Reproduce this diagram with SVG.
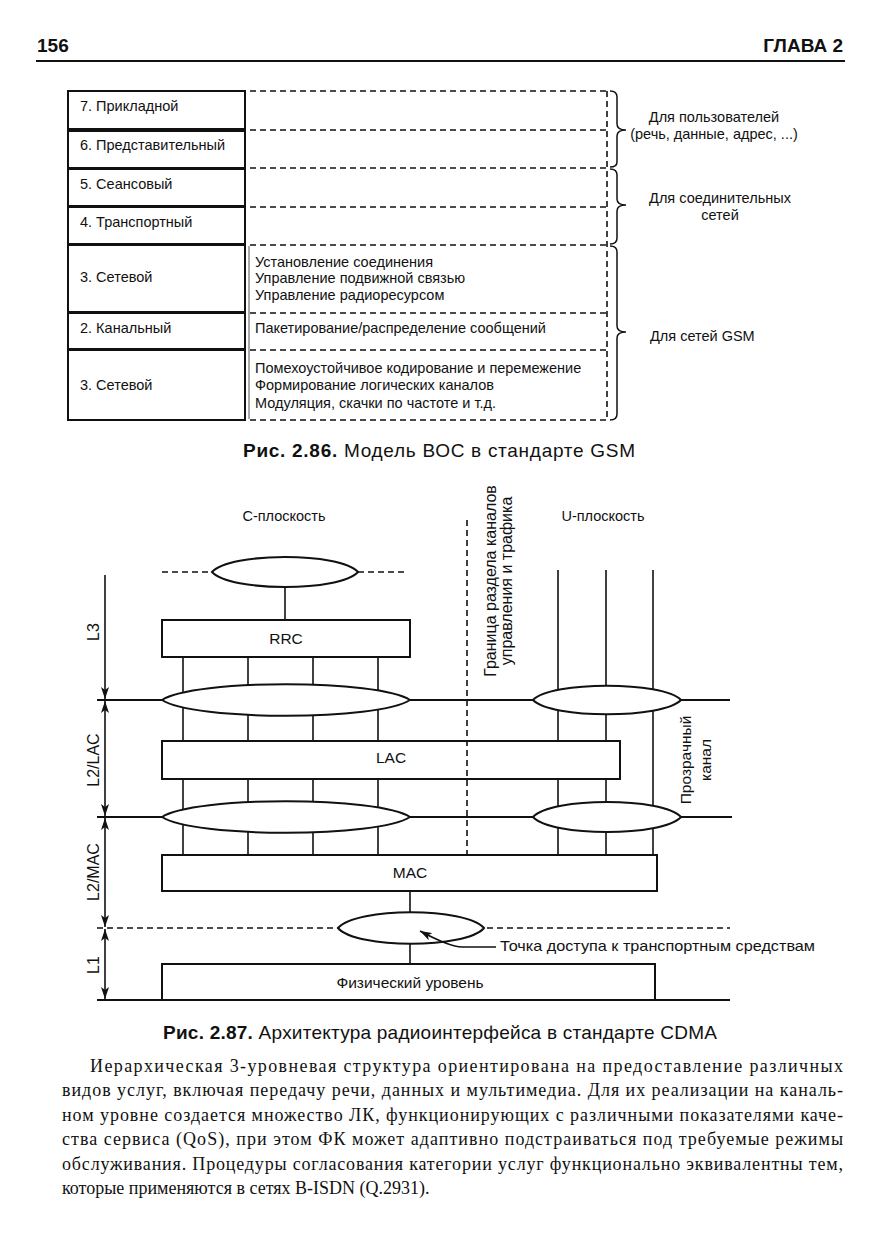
<svg xmlns="http://www.w3.org/2000/svg" width="880" height="1246" viewBox="0 0 880 1246">
<style>
text{font-family:"Liberation Sans",Arial,sans-serif;fill:#111}
.t{font-size:14.5px}
.lbl{font-size:15.5px}
.cap{font-size:19px}
.b{font-weight:bold}
.para{font-family:"Liberation Serif","Times New Roman",serif;font-size:18px}
.box{fill:#fff;stroke:#111;stroke-width:2}
.ell{fill:#fff;stroke:#111;stroke-width:2}
.ln{stroke:#111;stroke-width:1.6;fill:none}
.hl{stroke:#111;stroke-width:2;fill:none}
.ds{stroke:#111;stroke-width:1.6;fill:none;stroke-dasharray:6 4}
.br{stroke:#111;stroke-width:1.5;fill:none}
</style>
<defs>
<marker id="ah" markerUnits="userSpaceOnUse" markerWidth="13" markerHeight="8" refX="12" refY="4" orient="auto-start-reverse">
<path d="M0,0 L12,4 L0,8 L3,4 Z" fill="#111"/>
</marker>
</defs>
<rect width="880" height="1246" fill="#fff"/>

<g id="header">
<text x="37" y="52" class="b" font-size="19">156</text>
<text x="843" y="52" class="b" font-size="19" text-anchor="end">ГЛАВА 2</text>
<line x1="36" y1="61" x2="845" y2="61" class="hl"/>
</g>

<!-- Figure 2.86 -->
<g id="fig286-lines">
<line x1="250" y1="91" x2="606" y2="91" class="ds"/>
<line x1="250" y1="130" x2="606" y2="130" class="ds"/>
<line x1="250" y1="168" x2="606" y2="168" class="ds"/>
<line x1="250" y1="207" x2="606" y2="207" class="ds"/>
<line x1="250" y1="245" x2="606" y2="245" class="ds"/>
<line x1="250" y1="313" x2="606" y2="313" class="ds"/>
<line x1="250" y1="350" x2="606" y2="350" class="ds"/>
<line x1="250" y1="420" x2="606" y2="420" class="ds"/>
<line x1="607" y1="91" x2="607" y2="420" class="ds"/>
<line x1="249" y1="246" x2="249" y2="419" stroke="#555" stroke-width="1"/>
</g>
<g id="row7"><rect x="68" y="91" width="177" height="38" class="box"/><text x="80" y="111" class="t">7. Прикладной</text></g>
<g id="row6"><rect x="68" y="131" width="177" height="37" class="box"/><text x="80" y="150" class="t">6. Представительный</text></g>
<g id="row5"><rect x="68" y="169" width="177" height="37" class="box"/><text x="80" y="189" class="t">5. Сеансовый</text></g>
<g id="row4"><rect x="68" y="207" width="177" height="37" class="box"/><text x="80" y="227" class="t">4. Транспортный</text></g>
<g id="row3"><rect x="68" y="245" width="177" height="67" class="box"/><text x="80" y="282" class="t">3. Сетевой</text>
<text x="255" y="267" class="t">Установление соединения</text>
<text x="255" y="283" class="t">Управление подвижной связью</text>
<text x="255" y="300" class="t">Управление радиоресурсом</text></g>
<g id="row2"><rect x="68" y="313" width="177" height="36" class="box"/><text x="80" y="333" class="t">2. Канальный</text>
<text x="255" y="333" class="t">Пакетирование/распределение сообщений</text></g>
<g id="row1"><rect x="68" y="350" width="177" height="70" class="box"/><text x="80" y="390" class="t">3. Сетевой</text>
<text x="255" y="373" class="t">Помехоустойчивое кодирование и перемежение</text>
<text x="255" y="390" class="t">Формирование логических каналов</text>
<text x="255" y="408" class="t">Модуляция, скачки по частоте и т.д.</text></g>

<g id="brace-users">
<path class="br" d="M610,91 Q617,91 617,97 L617,124 Q617,130 626,130 Q617,130 617,136 L617,162 Q617,167 610,167"/>
<text x="714" y="122" class="t" text-anchor="middle">Для пользователей</text>
<text x="714" y="139" class="t" text-anchor="middle">(речь, данные, адрес, ...)</text>
</g>
<g id="brace-conn">
<path class="br" d="M610,169 Q617,169 617,175 L617,199 Q617,205 626,205 Q617,205 617,211 L617,238 Q617,244 610,244"/>
<text x="720" y="203" class="t" text-anchor="middle">Для соединительных</text>
<text x="720" y="220" class="t" text-anchor="middle">сетей</text>
</g>
<g id="brace-gsm">
<path class="br" d="M610,246 Q617,246 617,252 L617,326 Q617,332 626,332 Q617,332 617,338 L617,414 Q617,420 610,420"/>
<text x="650" y="341" class="t">Для сетей GSM</text>
</g>
<text x="243" y="457" class="cap" textLength="392"><tspan class="b">Рис. 2.86.</tspan> Модель ВОС в стандарте GSM</text>

<!-- Figure 2.87 -->
<g id="connectors">
<line x1="162" y1="572" x2="212" y2="572" class="ds"/>
<line x1="358" y1="572" x2="407" y2="572" class="ds"/>
<line x1="97" y1="700" x2="730" y2="700" class="hl"/>
<line x1="97" y1="817" x2="732" y2="817" class="hl"/>
<line x1="97" y1="928" x2="730" y2="928" class="ds"/>
<line x1="97" y1="1000" x2="730" y2="1000" class="hl"/>
<line x1="285" y1="584" x2="285" y2="620" class="ln"/>
<line x1="183" y1="657" x2="183" y2="855" class="ln"/>
<line x1="248" y1="657" x2="248" y2="855" class="ln"/>
<line x1="313" y1="657" x2="313" y2="855" class="ln"/>
<line x1="378" y1="657" x2="378" y2="855" class="ln"/>
<line x1="558" y1="570" x2="558" y2="855" class="ln"/>
<line x1="606" y1="570" x2="606" y2="855" class="ln"/>
<line x1="653" y1="570" x2="653" y2="855" class="ln"/>
<line x1="410" y1="891" x2="410" y2="964" class="ln"/>
<line x1="105" y1="575" x2="105" y2="699" class="ln" marker-end="url(#ah)"/>
<line x1="105" y1="701" x2="105" y2="816" class="ln" marker-start="url(#ah)" marker-end="url(#ah)"/>
<line x1="105" y1="818" x2="105" y2="927" class="ln" marker-start="url(#ah)" marker-end="url(#ah)"/>
<line x1="105" y1="929" x2="105" y2="999" class="ln" marker-start="url(#ah)" marker-end="url(#ah)"/>
</g>

<g id="sap-top"><path class="ell" d="M212,572 C230,552 340,552 358,572 C340,592 230,592 212,572 Z"/></g>
<g id="rrc"><rect x="162" y="620" width="248" height="37" class="box"/><text x="286" y="644" class="lbl" text-anchor="middle">RRC</text></g>
<g id="sap-c-l3"><path class="ell" d="M162,700 C193,679 379,679 410,700 C379,721 193,721 162,700 Z"/></g>
<g id="sap-u-l3"><path class="ell" d="M533,700 C551,681 663,681 681,700 C663,719 551,719 533,700 Z"/></g>
<g id="lac"><rect x="162" y="741" width="458" height="38" class="box"/><text x="391" y="763" class="lbl" text-anchor="middle">LAC</text></g>
<g id="sap-c-l2"><path class="ell" d="M162,817 C193,796 379,796 410,817 C379,838 193,838 162,817 Z"/></g>
<g id="sap-u-l2"><path class="ell" d="M533,817 C551,797 663,797 681,817 C663,837 551,837 533,817 Z"/></g>
<g id="mac"><rect x="162" y="855" width="495" height="36" class="box"/><text x="410" y="878" class="lbl" text-anchor="middle">MAC</text></g>
<g id="sap-l1"><path class="ell" d="M338,928 C356,907 466,907 484,928 C466,949 356,949 338,928 Z"/></g>
<g id="phy"><rect x="162" y="964" width="493" height="36" class="box"/><text x="410" y="988" class="lbl" text-anchor="middle">Физический уровень</text></g>

<g id="boundary">
<line x1="467" y1="520" x2="467" y2="855" class="ds"/>
<text transform="translate(496,581) rotate(-90)" font-size="16" text-anchor="middle">Граница раздела каналов</text>
<text transform="translate(512,581) rotate(-90)" font-size="16" text-anchor="middle">управления и трафика</text>
</g>

<g id="labels">
<text x="284" y="521" class="t" text-anchor="middle">С-плоскость</text>
<text x="603" y="521" class="t" text-anchor="middle">U-плоскость</text>
<text transform="translate(691,760) rotate(-90)" class="lbl" text-anchor="middle">Прозрачный</text>
<text transform="translate(711,760) rotate(-90)" class="lbl" text-anchor="middle">канал</text>
<text transform="translate(99,632) rotate(-90)" font-size="16" text-anchor="middle">L3</text>
<text transform="translate(99,760) rotate(-90)" font-size="16" text-anchor="middle">L2/LAC</text>
<text transform="translate(99,872) rotate(-90)" font-size="16" text-anchor="middle">L2/MAC</text>
<text transform="translate(99,965) rotate(-90)" font-size="16" text-anchor="middle">L1</text>
</g>

<g id="sap-callout">
<path class="ln" d="M496,947 H462 Q450,947 420,931" marker-end="url(#ah)"/>
<text x="500" y="951" font-size="15" textLength="315" lengthAdjust="spacingAndGlyphs">Точка доступа к транспортным средствам</text>
</g>

<text x="163" y="1039" class="cap" textLength="554"><tspan class="b">Рис. 2.87.</tspan> Архитектура радиоинтерфейса в стандарте CDMA</text>

<g id="paragraph">
<text x="90" y="1072" class="para" textLength="753" lengthAdjust="spacing">Иерархическая 3-уровневая структура ориентирована на предоставление различных</text>
<text x="62" y="1096" class="para" textLength="781" lengthAdjust="spacing">видов услуг, включая передачу речи, данных и мультимедиа. Для их реализации на каналь-</text>
<text x="62" y="1121" class="para" textLength="781" lengthAdjust="spacing">ном уровне создается множество ЛК, функционирующих с различными показателями каче-</text>
<text x="62" y="1145" class="para" textLength="781" lengthAdjust="spacing">ства сервиса (QoS), при этом ФК может адаптивно подстраиваться под требуемые режимы</text>
<text x="62" y="1170" class="para" textLength="781" lengthAdjust="spacing">обслуживания. Процедуры согласования категории услуг функционально эквивалентны тем,</text>
<text x="62" y="1194" class="para">которые применяются в сетях B-ISDN (Q.2931).</text>
</g>
</svg>
